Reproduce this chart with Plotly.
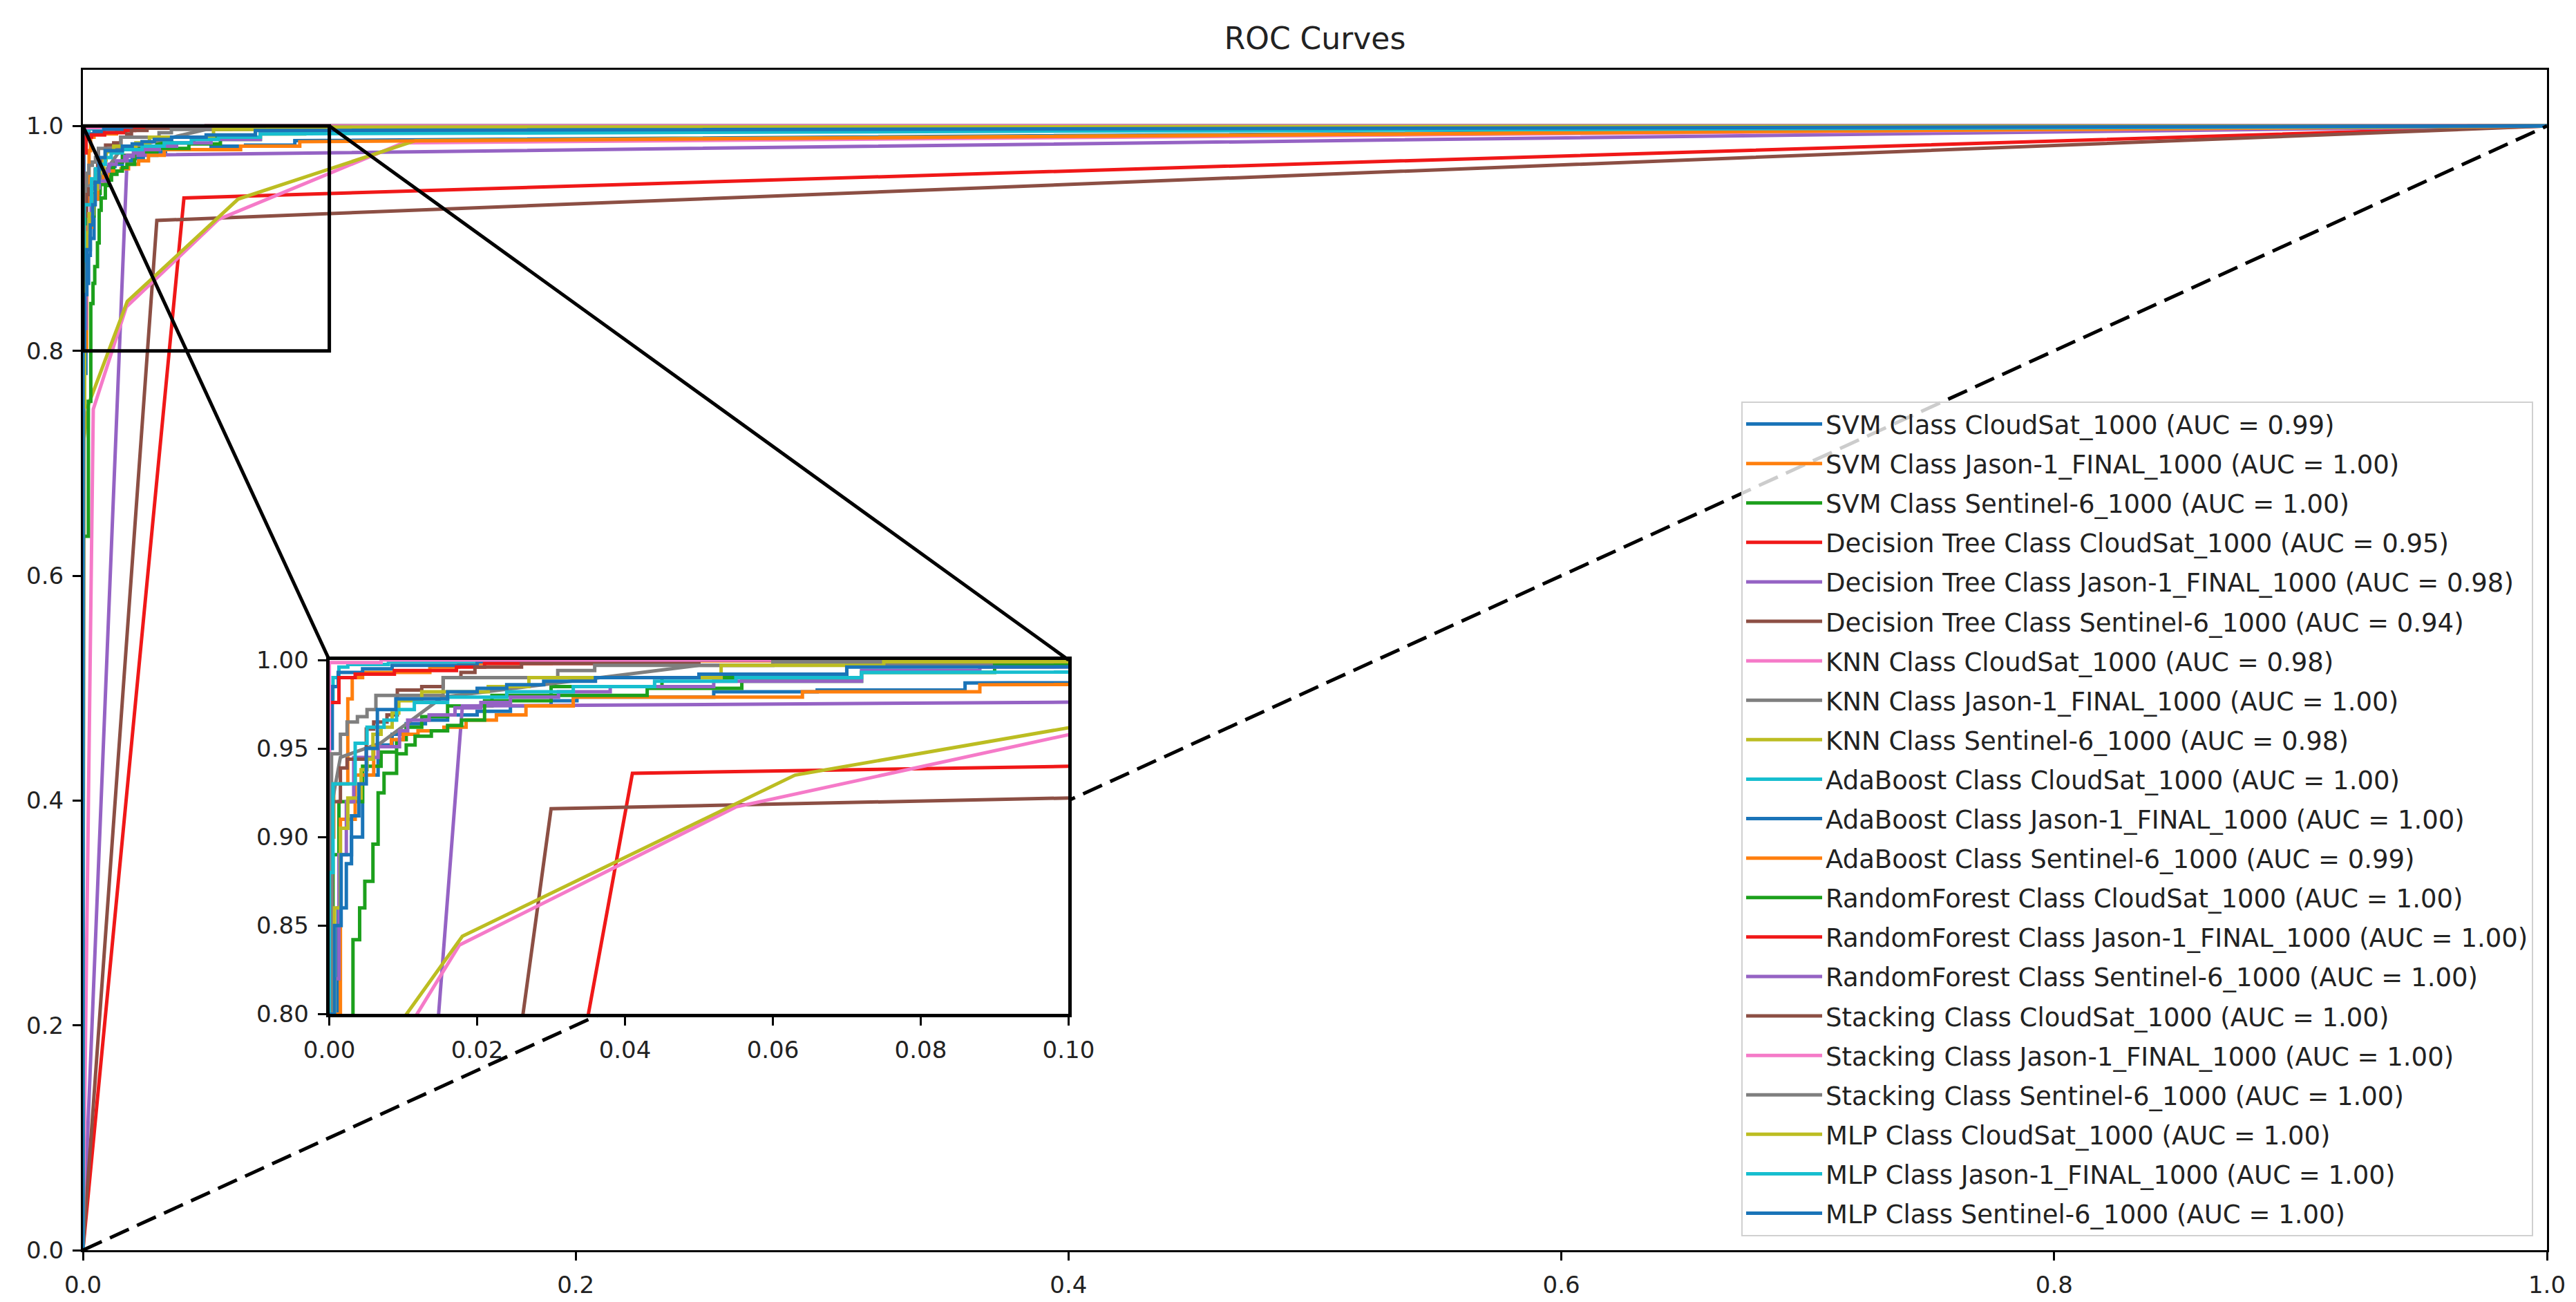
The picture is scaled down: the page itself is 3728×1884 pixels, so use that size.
import plotly.graph_objects as go

# ROC curve points (fpr / tpr)
svm_cloudsat_fpr = [0, 0, 0.0012, 0.0012, 0.0023, 0.0023, 0.0030, 0.0030, 0.0045, 0.0045, 0.0066, 0.0066, 0.0085, 0.0085,
                    0.0104, 0.0104, 0.0130, 0.0130, 0.0160, 0.0160, 0.0200, 0.0200, 0.0245, 0.0245, 0.0300, 0.0300,
                    0.0335, 0.0335, 0.0520, 0.0520, 0.0660, 0.0660, 0.0860, 0.0860, 1.0]
svm_cloudsat_tpr = [0, 0.780, 0.780, 0.860, 0.860, 0.885, 0.885, 0.900, 0.900, 0.935, 0.935, 0.952, 0.952, 0.958,
                    0.958, 0.964, 0.964, 0.966, 0.966, 0.969, 0.969, 0.971, 0.971, 0.974, 0.974, 0.977,
                    0.977, 0.979, 0.979, 0.982, 0.982, 0.983, 0.983, 0.987, 1.0]

svm_jason_fpr = [0, 0, 0.0006, 0.0006, 0.0025, 0.0025, 0.0031, 0.0031, 0.0045, 0.0045, 0.0136, 0.0136, 0.0175, 0.0175,
                 0.0300, 0.0300, 1.0]
svm_jason_tpr = [0, 0.900, 0.900, 0.930, 0.930, 0.978, 0.978, 0.990, 0.990, 0.993, 0.993, 0.996, 0.996, 0.998,
                 0.998, 0.9995, 1.0]

svm_sentinel_fpr = [0, 0, 0.0005, 0.0005, 0.0013, 0.0013, 0.0045, 0.0045, 0.0070, 0.0070, 0.0091, 0.0091, 0.0104, 0.0104,
                    0.0125, 0.0125, 0.0160, 0.0160, 0.0220, 0.0220, 0.0300, 0.0300, 0.0450, 0.0450, 0.0700, 0.0700, 1.0]
svm_sentinel_tpr = [0, 0.800, 0.800, 0.890, 0.890, 0.920, 0.920, 0.940, 0.940, 0.948, 0.948, 0.955, 0.955, 0.962,
                    0.962, 0.968, 0.968, 0.974, 0.974, 0.980, 0.980, 0.985, 0.985, 0.990, 0.990, 0.997, 1.0]

dt_cloudsat_fpr = [0, 0.041, 1.0]
dt_cloudsat_tpr = [0, 0.936, 1.0]

dt_jason_fpr = [0, 0.018, 1.0]
dt_jason_tpr = [0, 0.974, 1.0]

dt_sentinel_fpr = [0, 0.030, 1.0]
dt_sentinel_tpr = [0, 0.916, 1.0]

knn_cloudsat_fpr = [0, 0.0042, 0.0176, 0.055, 0.13, 1.0]
knn_cloudsat_tpr = [0, 0.748, 0.839, 0.917, 0.985, 1.0]

knn_jason_fpr = [0, 0.0004, 0.0015, 0.0069, 0.0153, 0.05, 1.0]
knn_jason_tpr = [0, 0.920, 0.945, 0.953, 0.979, 0.997, 1.0]

knn_sentinel_fpr = [0, 0.0003, 0.0022, 0.018, 0.063, 0.135, 1.0]
knn_sentinel_tpr = [0, 0.720, 0.752, 0.844, 0.935, 0.987, 1.0]

ada_cloudsat_fpr = [0, 0, 0.0005, 0.0005, 0.0013, 0.0013, 0.0025, 0.0025, 0.0080, 0.0080, 0.0400, 0.0400, 1.0]
ada_cloudsat_tpr = [0, 0.978, 0.978, 0.990, 0.990, 0.996, 0.996, 0.9975, 0.9975, 0.999, 0.999, 1.0, 1.0]

ada_jason_fpr = [0, 0, 0.0004, 0.0004, 0.0012, 0.0012, 0.0045, 0.0045, 0.0085, 0.0085, 0.0200, 0.0200, 0.0500, 0.0500, 1.0]
ada_jason_tpr = [0, 0.950, 0.950, 0.985, 0.985, 0.993, 0.993, 0.995, 0.995, 0.997, 0.997, 0.999, 0.999, 1.0, 1.0]

ada_sentinel_fpr = [0, 0, 0.0015, 0.0015, 0.0035, 0.0035, 0.0060, 0.0060, 0.0084, 0.0084, 0.0100, 0.0100, 0.0120, 0.0120,
                    0.0155, 0.0155, 0.0185, 0.0185, 0.0226, 0.0226, 0.0266, 0.0266, 0.0330, 0.0330, 0.0640, 0.0640,
                    0.0880, 0.0880, 1.0]
ada_sentinel_tpr = [0, 0.800, 0.800, 0.910, 0.910, 0.935, 0.935, 0.951, 0.951, 0.955, 0.955, 0.958, 0.958, 0.960,
                    0.960, 0.962, 0.962, 0.966, 0.966, 0.969, 0.969, 0.974, 0.974, 0.979, 0.979, 0.982,
                    0.982, 0.986, 1.0]

rf_cloudsat_fpr = [0, 0, 0.0022, 0.0022, 0.0032, 0.0032, 0.0041, 0.0041, 0.0048, 0.0048, 0.0059, 0.0059, 0.0066, 0.0066,
                   0.0074, 0.0074, 0.0091, 0.0091, 0.0104, 0.0104, 0.0116, 0.0116, 0.0138, 0.0138, 0.0160, 0.0160,
                   0.0179, 0.0179, 0.0210, 0.0210, 0.0300, 0.0300, 0.0430, 0.0430, 0.0558, 0.0558, 0.0720, 0.0720,
                   0.0900, 0.0900, 1.0]
rf_cloudsat_tpr = [0, 0.635, 0.635, 0.755, 0.755, 0.842, 0.842, 0.860, 0.860, 0.875, 0.875, 0.896, 0.896, 0.925,
                   0.925, 0.936, 0.936, 0.947, 0.947, 0.952, 0.952, 0.957, 0.957, 0.960, 0.960, 0.963,
                   0.963, 0.966, 0.966, 0.977, 0.977, 0.980, 0.980, 0.984, 0.984, 0.988, 0.988, 0.993,
                   0.993, 0.997, 1.0]

rf_jason_fpr = [0, 0, 0.0013, 0.0013, 0.0035, 0.0035, 0.0088, 0.0088, 0.0172, 0.0172, 0.0210, 0.0210, 0.0500, 0.0500, 1.0]
rf_jason_tpr = [0, 0.976, 0.976, 0.990, 0.990, 0.992, 0.992, 0.994, 0.994, 0.996, 0.996, 0.998, 0.998, 1.0, 1.0]

rf_sentinel_fpr = [0, 0, 0.0013, 0.0013, 0.0023, 0.0023, 0.0033, 0.0033, 0.0066, 0.0066, 0.0095, 0.0095, 0.0106, 0.0106,
                   0.0135, 0.0135, 0.0170, 0.0170, 0.0205, 0.0205, 0.0245, 0.0245, 0.0310, 0.0310, 0.0380, 0.0380,
                   0.0520, 0.0520, 0.0720, 0.0720, 0.0880, 0.0880, 1.0]
rf_sentinel_tpr = [0, 0.820, 0.820, 0.890, 0.890, 0.920, 0.920, 0.945, 0.945, 0.951, 0.951, 0.960, 0.960, 0.966,
                   0.966, 0.969, 0.969, 0.973, 0.973, 0.976, 0.976, 0.979, 0.979, 0.982, 0.982, 0.985,
                   0.985, 0.988, 0.988, 0.994, 0.994, 0.996, 1.0]

stack_cloudsat_fpr = [0, 0, 0.0003, 0.0003, 0.0015, 0.0015, 0.0024, 0.0024, 0.0050, 0.0050, 0.0060, 0.0060, 0.0078, 0.0078,
                      0.0092, 0.0092, 0.0125, 0.0125, 0.0154, 0.0154, 0.0178, 0.0178, 0.0197, 0.0197, 0.0260, 0.0260,
                      0.0500, 0.0500, 1.0]
stack_cloudsat_tpr = [0, 0.800, 0.800, 0.920, 0.920, 0.939, 0.939, 0.944, 0.944, 0.961, 0.961, 0.965, 0.965, 0.969,
                      0.969, 0.983, 0.983, 0.985, 0.985, 0.990, 0.990, 0.993, 0.993, 0.996, 0.996, 0.998,
                      0.998, 1.0, 1.0]

stack_jason_fpr = [0, 0, 0.007, 0.007, 1.0]
stack_jason_tpr = [0, 0.9985, 0.9985, 1.0, 1.0]

stack_sentinel_fpr = [0, 0, 0.0003, 0.0003, 0.0015, 0.0015, 0.0024, 0.0024, 0.0038, 0.0038, 0.0051, 0.0051, 0.0063, 0.0063,
                      0.0154, 0.0154, 0.0309, 0.0309, 0.0359, 0.0359, 0.0600, 0.0600, 1.0]
stack_sentinel_tpr = [0, 0.720, 0.720, 0.947, 0.947, 0.958, 0.958, 0.965, 0.965, 0.968, 0.968, 0.972, 0.972, 0.980,
                      0.980, 0.990, 0.990, 0.994, 0.994, 0.997, 0.997, 0.999, 1.0]

mlp_cloudsat_fpr = [0, 0, 0.0007, 0.0007, 0.0015, 0.0015, 0.0025, 0.0025, 0.0043, 0.0043, 0.0051, 0.0051, 0.0059, 0.0059,
                    0.0070, 0.0070, 0.0085, 0.0085, 0.0094, 0.0094, 0.0125, 0.0125, 0.0215, 0.0215, 0.0270, 0.0270,
                    0.0530, 0.0530, 0.0750, 0.0750, 1.0]
mlp_cloudsat_tpr = [0, 0.750, 0.750, 0.860, 0.860, 0.905, 0.905, 0.922, 0.922, 0.938, 0.938, 0.944, 0.944, 0.958,
                    0.958, 0.962, 0.962, 0.970, 0.970, 0.977, 0.977, 0.982, 0.982, 0.985, 0.985, 0.990,
                    0.990, 0.997, 0.997, 0.999, 1.0]

mlp_jason_fpr = [0, 0, 0.0005, 0.0005, 0.0035, 0.0035, 0.0051, 0.0051, 0.0074, 0.0074, 0.0091, 0.0091, 0.0115, 0.0115,
                 0.0160, 0.0160, 0.0240, 0.0240, 0.0330, 0.0330, 0.0440, 0.0440, 0.0550, 0.0550, 0.0720, 0.0720, 1.0]
mlp_jason_tpr = [0, 0.880, 0.880, 0.930, 0.930, 0.953, 0.953, 0.962, 0.962, 0.966, 0.966, 0.972, 0.972, 0.976,
                 0.976, 0.979, 0.979, 0.982, 0.982, 0.985, 0.985, 0.988, 0.988, 0.990, 0.990, 0.993, 1.0]

mlp_sentinel_fpr = [0, 0, 0.0007, 0.0007, 0.0016, 0.0016, 0.0030, 0.0030, 0.0040, 0.0040, 0.0050, 0.0050, 0.0065, 0.0065,
                    0.0090, 0.0090, 0.0160, 0.0160, 0.0200, 0.0200, 0.0240, 0.0240, 0.0290, 0.0290, 0.0360, 0.0360,
                    0.0500, 0.0500, 0.0700, 0.0700, 1.0]
mlp_sentinel_tpr = [0, 0.800, 0.800, 0.850, 0.850, 0.890, 0.890, 0.912, 0.912, 0.930, 0.930, 0.950, 0.950, 0.972,
                    0.972, 0.978, 0.978, 0.982, 0.982, 0.984, 0.984, 0.986, 0.986, 0.988, 0.988, 0.990,
                    0.990, 0.992, 0.992, 0.996, 1.0]

labels = [
    "SVM Class CloudSat_1000 (AUC = 0.99)",
    "SVM Class Jason-1_FINAL_1000 (AUC = 1.00)",
    "SVM Class Sentinel-6_1000 (AUC = 1.00)",
    "Decision Tree Class CloudSat_1000 (AUC = 0.95)",
    "Decision Tree Class Jason-1_FINAL_1000 (AUC = 0.98)",
    "Decision Tree Class Sentinel-6_1000 (AUC = 0.94)",
    "KNN Class CloudSat_1000 (AUC = 0.98)",
    "KNN Class Jason-1_FINAL_1000 (AUC = 1.00)",
    "KNN Class Sentinel-6_1000 (AUC = 0.98)",
    "AdaBoost Class CloudSat_1000 (AUC = 1.00)",
    "AdaBoost Class Jason-1_FINAL_1000 (AUC = 1.00)",
    "AdaBoost Class Sentinel-6_1000 (AUC = 0.99)",
    "RandomForest Class CloudSat_1000 (AUC = 1.00)",
    "RandomForest Class Jason-1_FINAL_1000 (AUC = 1.00)",
    "RandomForest Class Sentinel-6_1000 (AUC = 1.00)",
    "Stacking Class CloudSat_1000 (AUC = 1.00)",
    "Stacking Class Jason-1_FINAL_1000 (AUC = 1.00)",
    "Stacking Class Sentinel-6_1000 (AUC = 1.00)",
    "MLP Class CloudSat_1000 (AUC = 1.00)",
    "MLP Class Jason-1_FINAL_1000 (AUC = 1.00)",
    "MLP Class Sentinel-6_1000 (AUC = 1.00)",
]

curves = [
    (svm_cloudsat_fpr, svm_cloudsat_tpr), (svm_jason_fpr, svm_jason_tpr), (svm_sentinel_fpr, svm_sentinel_tpr),
    (dt_cloudsat_fpr, dt_cloudsat_tpr), (dt_jason_fpr, dt_jason_tpr), (dt_sentinel_fpr, dt_sentinel_tpr),
    (knn_cloudsat_fpr, knn_cloudsat_tpr), (knn_jason_fpr, knn_jason_tpr), (knn_sentinel_fpr, knn_sentinel_tpr),
    (ada_cloudsat_fpr, ada_cloudsat_tpr), (ada_jason_fpr, ada_jason_tpr), (ada_sentinel_fpr, ada_sentinel_tpr),
    (rf_cloudsat_fpr, rf_cloudsat_tpr), (rf_jason_fpr, rf_jason_tpr), (rf_sentinel_fpr, rf_sentinel_tpr),
    (stack_cloudsat_fpr, stack_cloudsat_tpr), (stack_jason_fpr, stack_jason_tpr), (stack_sentinel_fpr, stack_sentinel_tpr),
    (mlp_cloudsat_fpr, mlp_cloudsat_tpr), (mlp_jason_fpr, mlp_jason_tpr), (mlp_sentinel_fpr, mlp_sentinel_tpr),
]

# matplotlib-like colour cycle
palette = ["#1a74b8", "#ff7f0e", "#1ca01c", "#f01818", "#9563c4",
           "#8c4f44", "#f57ac8", "#7f7f7f", "#bcbd22", "#17becf"]

FONT = "DejaVu Sans"
LW = 5
main_xrange = [0, 1.0]
main_yrange = [0, 1.05]
inset_xrange = [0, 0.1]
inset_yrange = [0.8, 1.0]
inset_dom_x = [0.1, 0.4]
inset_dom_y = [0.2, 0.5]

fig = go.Figure()

# main axes
for i, (fpr, tpr) in enumerate(curves):
    fig.add_trace(go.Scatter(x=fpr, y=tpr, mode="lines", name=labels[i], legendgroup=labels[i],
                             line=dict(color=palette[i % 10], width=LW), xaxis="x", yaxis="y"))

fig.add_trace(go.Scatter(x=[0, 1], y=[0, 1], mode="lines", showlegend=False,
                         line=dict(color="black", width=5, dash="30px,13px"), xaxis="x", yaxis="y"))

# zoomed inset
for i, (fpr, tpr) in enumerate(curves):
    fig.add_trace(go.Scatter(x=fpr, y=tpr, mode="lines", showlegend=False, legendgroup=labels[i],
                             line=dict(color=palette[i % 10], width=LW), xaxis="x2", yaxis="y2"))

axis_style = dict(showline=True, linecolor="black", mirror=True, ticks="outside", tickcolor="black",
                  showgrid=False, zeroline=False, ticklabelstandoff=6,
                  tickfont=dict(family=FONT, size=34, color="#222222"))

# inset corners expressed in main data coordinates (for the connector lines)
sx = main_xrange[1] - main_xrange[0]
sy = main_yrange[1] - main_yrange[0]
in_left = main_xrange[0] + inset_dom_x[0] * sx
in_right = main_xrange[0] + inset_dom_x[1] * sx
in_top = main_yrange[0] + inset_dom_y[1] * sy

shapes = [
    # white background for the inset so the main lines do not show through
    dict(type="rect", xref="x2", yref="y2", x0=inset_xrange[0], x1=inset_xrange[1],
         y0=inset_yrange[0], y1=inset_yrange[1], fillcolor="white", line=dict(width=0), layer="below"),
    # zoom indicator box and connectors
    dict(type="rect", xref="x", yref="y", x0=inset_xrange[0], x1=inset_xrange[1],
         y0=inset_yrange[0], y1=inset_yrange[1], line=dict(color="black", width=5), layer="above"),
    dict(type="line", xref="x", yref="y", x0=inset_xrange[0], y0=inset_yrange[1], x1=in_left, y1=in_top,
         line=dict(color="black", width=5), layer="above"),
    dict(type="line", xref="x", yref="y", x0=inset_xrange[1], y0=inset_yrange[1], x1=in_right, y1=in_top,
         line=dict(color="black", width=5), layer="above"),
]

fig.update_layout(
    width=3728, height=1884,
    margin=dict(l=112, r=47, t=93, b=83),
    plot_bgcolor="white", paper_bgcolor="white",
    font=dict(family=FONT, color="#222222"),
    title=dict(text="ROC Curves", x=0.5, xref="paper", y=0.975, yref="container", yanchor="middle",
               font=dict(family=FONT, size=44, color="#222222")),
    xaxis=dict(domain=[0, 1], range=main_xrange, tickvals=[0, 0.2, 0.4, 0.6, 0.8, 1.0], tickformat=".1f",
               linewidth=3, tickwidth=3, ticklen=12, anchor="y", **axis_style),
    yaxis=dict(domain=[0, 1], range=main_yrange, tickvals=[0, 0.2, 0.4, 0.6, 0.8, 1.0], tickformat=".1f",
               linewidth=3, tickwidth=3, ticklen=12, anchor="x", **axis_style),
    xaxis2=dict(domain=inset_dom_x, range=inset_xrange, tickvals=[0, 0.02, 0.04, 0.06, 0.08, 0.1], tickformat=".2f",
                linewidth=5, tickwidth=3, ticklen=12, anchor="y2", **axis_style),
    yaxis2=dict(domain=inset_dom_y, range=inset_yrange, tickvals=[0.8, 0.85, 0.9, 0.95, 1.0], tickformat=".2f",
                linewidth=5, tickwidth=3, ticklen=12, anchor="x2", **axis_style),
    shapes=shapes,
    legend=dict(x=0.9944, y=0.0117, xanchor="right", yanchor="bottom", traceorder="grouped",
                tracegroupgap=6, bgcolor="rgba(255,255,255,0.8)", bordercolor="#d0d0d0", borderwidth=2,
                font=dict(family=FONT, size=37, color="#222222"), itemwidth=110),
)

fig.write_html("out.html")
